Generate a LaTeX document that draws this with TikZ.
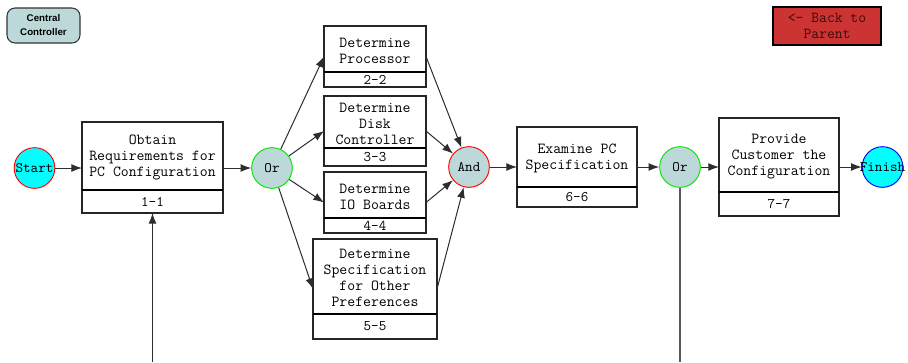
\documentclass[tikz,border=0pt]{standalone}
\usepackage{fontspec}
\setmainfont{Liberation Sans}
\usetikzlibrary{arrows.meta,fit,calc}
\definecolor{nodeteal}{RGB}{188,216,216}
\definecolor{backred}{RGB}{204,51,51}
\definecolor{linegray}{RGB}{45,45,45}
\definecolor{termcyan}{RGB}{0,255,255}
\definecolor{gatered}{RGB}{255,0,0}
\definecolor{gategreen}{RGB}{0,230,0}
\definecolor{termblue}{RGB}{0,0,255}
\definecolor{backtext}{RGB}{60,10,10}
\tikzset{
  pbox/.style={draw=black!85, line width=1.2pt, fill=white, inner sep=0pt, outer sep=0pt},
  divline/.style={draw=black, line width=2.2pt},
  ptext/.style={font=\ttfamily\fontsize{11.5}{12}\selectfont, align=center, inner sep=0pt},
  ltext/.style={font=\ttfamily\fontsize{11}{12}\selectfont, inner sep=0pt},
  circnode/.style={circle, minimum size=30.5pt, inner sep=0pt, line width=0.7pt},
  gate/.style={circnode, fill=nodeteal},
  ctext/.style={font=\ttfamily\fontsize{10.8}{12}\selectfont, inner sep=0pt},
  arr/.style={draw=linegray, line width=0.75pt, -{Latex[length=8pt,width=6pt]}},
  plain/.style={draw=black!65, line width=1pt}
}
\newcommand{\procbox}[8]{%
  \path (#2,#3) coordinate (#1-nw) (#4,#5) coordinate (#1-se);
  \node[pbox, fit=(#1-nw)(#1-se)] (#1) {};
  \draw[divline] (#1.west |- 0,#6) -- (#1.east |- 0,#6);
  \node[ptext] (#1-t) at ($(#1.north)!0.5!(#1.north |- 0,#6)+(0,1.5)$) {#7};
  \node[ltext] (#1-l) at ($(#1.south)!0.5!(#1.south |- 0,#6)$) {#8};
}
\begin{document}
\begin{tikzpicture}[x=0.75pt,y=-0.75pt]
\useasboundingbox[fill=white] (0,0) rectangle (908,362);

% top-left and top-right buttons
\node[draw=black!80, line width=0.8pt, fill=nodeteal, rounded corners=6pt,
      minimum width=54.75pt, minimum height=26.25pt, inner sep=0pt,
      font=\bfseries\fontsize{7.3}{10.5}\selectfont, align=center] (cc) at (43.5,25.5) {Central\\Controller};
\node[draw=black, line width=1.5pt, fill=backred, minimum width=81pt, minimum height=28.5pt,
      inner sep=0pt, font=\ttfamily\fontsize{11.4}{12}\selectfont, text=backtext, align=center] (back) at (827,26) {<- Back to\\Parent};

% process boxes
\procbox{b1}{82}{122}{223}{213}{190}{Obtain\\Requirements for\\PC Configuration}{1-1}
\procbox{b2}{324}{26}{426}{87}{72}{Determine\\Processor}{2-2}
\procbox{b3}{324}{96}{426}{166}{148}{Determine\\Disk\\Controller}{3-3}
\procbox{b4}{324}{172}{426}{233}{218}{Determine\\IO Boards}{4-4}
\procbox{b5}{313}{239}{437}{339}{314}{Determine\\Specification\\for Other\\Preferences}{5-5}
\procbox{b6}{517}{127}{637}{207}{187}{Examine PC\\Specification}{6-6}
\procbox{b7}{719}{118}{839}{216}{192}{Provide\\Customer the\\Configuration}{7-7}

% terminals and gates
\node[circnode, fill=termcyan, draw=gatered] (start) at (34.5,168) {};
\node[ctext] at (start) {Start};
\node[gate, draw=gategreen] (o1) at (272,168) {};
\node[ctext] at (o1) {Or};
\node[gate, draw=gatered] (and) at (469,167) {};
\node[ctext] at (and) {And};
\node[gate, draw=gategreen] (o2) at (680,167) {};
\node[ctext] at (o2) {Or};
\node[circnode, fill=termcyan, draw=termblue] (finish) at (882.5,167) {};
\node[ctext] at (finish) {Finish};

% connectors
\draw[arr] (start) -- (b1.west |- start);
\draw[arr] (b1.east |- o1) -- (o1);
\draw[arr] (o1) -- (b2.west);
\draw[arr] (o1) -- (b3.west);
\draw[arr] (o1) -- (b4.west);
\draw[arr] (o1) -- (b5.west);
\draw[arr] (b2.east) -- (and);
\draw[arr] (b3.east) -- (and);
\draw[arr] (b4.east) -- (and);
\draw[arr] (b5.east) -- (and);
\draw[arr] (and) -- (b6.west |- and);
\draw[arr] (b6.east |- o2) -- (o2);
\draw[arr] (o2) -- (b7.west |- o2);
\draw[arr] (b7.east |- finish) -- (finish);

\coordinate (in1) at (b1.south |- 0,362);
\draw[arr] (in1) -- (b1.south);
\coordinate (out2) at (o2.south |- 0,362);
\draw[plain] (o2) -- (out2);
\end{tikzpicture}
\end{document}
